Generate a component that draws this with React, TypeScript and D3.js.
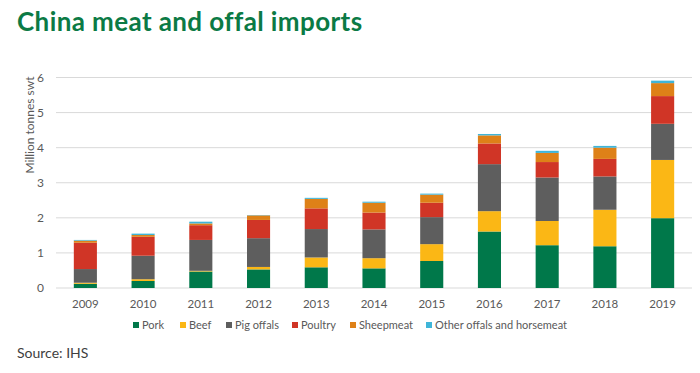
import React, { useEffect, useRef } from 'react'
import * as d3 from 'd3'

const years = ['2009', '2010', '2011', '2012', '2013', '2014', '2015', '2016', '2017', '2018', '2019']
const pork = [0.12, 0.2, 0.47, 0.53, 0.59, 0.56, 0.77, 1.61, 1.22, 1.19, 1.99]
const beef = [0.03, 0.05, 0.02, 0.07, 0.28, 0.29, 0.48, 0.58, 0.69, 1.04, 1.66]
const pigOffals = [0.39, 0.67, 0.88, 0.82, 0.81, 0.82, 0.77, 1.34, 1.24, 0.95, 1.03]
const poultry = [0.75, 0.54, 0.42, 0.52, 0.59, 0.48, 0.41, 0.59, 0.44, 0.5, 0.79]
const sheepmeat = [0.06, 0.05, 0.05, 0.13, 0.27, 0.28, 0.23, 0.23, 0.26, 0.32, 0.37]
const other = [0.02, 0.04, 0.05, 0.01, 0.03, 0.03, 0.03, 0.04, 0.06, 0.05, 0.07]
const seriesNames = ['Pork', 'Beef', 'Pig offals', 'Poultry', 'Sheepmeat', 'Other offals and horsemeat']
const seriesColors = ['#00784a', '#fbb715', '#5e5e5e', '#d03526', '#de8118', '#3fb5d8']
const yTicks = [0, 1, 2, 3, 4, 5, 6]

const font = 'Lato, "Open Sans", sans-serif'

const App = () => {
  const svgRef = useRef<SVGSVGElement>(null)

  useEffect(() => {
    const width = 700
    const height = 373
    const svg = d3.select(svgRef.current).attr('width', width).attr('height', height)
    svg.selectAll('*').remove()

    const all = [pork, beef, pigOffals, poultry, sheepmeat, other]
    const table = years.map((y, i) => {
      const row: any = { year: y }
      seriesNames.forEach((s, k) => (row[s] = all[k][i]))
      return row
    })

    const x = d3.scaleBand().domain(years).range([56.5, 691.5]).paddingInner(0.6).paddingOuter(0.3)
    const y = d3.scaleLinear().domain([0, 6]).range([288, 77.5])

    // title
    svg
      .append('text')
      .attr('x', 17)
      .attr('y', 31)
      .text('China meat and offal imports')
      .style('font-family', font)
      .style('font-weight', 'bold')
      .style('font-size', '26px')
      .style('letter-spacing', '0.4px')
      .style('fill', '#0b7a45')

    // grid
    svg
      .append('g')
      .selectAll('line')
      .data(yTicks)
      .enter()
      .append('line')
      .attr('x1', 56)
      .attr('x2', 692)
      .attr('y1', (d) => y(d))
      .attr('y2', (d) => y(d))
      .attr('stroke', '#d9d9d9')
      .attr('stroke-width', 1)

    svg
      .append('g')
      .selectAll('text')
      .data(yTicks)
      .enter()
      .append('text')
      .attr('x', 44)
      .attr('y', (d) => y(d))
      .attr('dy', '0.35em')
      .attr('text-anchor', 'end')
      .text((d) => d)
      .style('font-family', font)
      .style('font-size', '12px')
      .style('fill', '#595959')

    svg
      .append('text')
      .attr('transform', 'translate(34,125) rotate(-90)')
      .attr('text-anchor', 'middle')
      .text('Million tonnes swt')
      .style('font-family', font)
      .style('font-size', '12px')
      .style('fill', '#595959')

    // bars
    const stack = d3.stack<any>().keys(seriesNames)
    const layers = stack(table)
    svg
      .append('g')
      .selectAll('g')
      .data(layers)
      .enter()
      .append('g')
      .attr('fill', (d, i) => seriesColors[i])
      .selectAll('rect')
      .data((d) => d)
      .enter()
      .append('rect')
      .attr('x', (d: any) => x(d.data.year)!)
      .attr('width', x.bandwidth())
      .attr('y', (d) => y(d[1]))
      .attr('height', (d) => y(d[0]) - y(d[1]))

    // x labels
    svg
      .append('g')
      .selectAll('text')
      .data(years)
      .enter()
      .append('text')
      .attr('x', (d) => x(d)! + x.bandwidth() / 2)
      .attr('y', 304)
      .attr('dy', '0.35em')
      .attr('text-anchor', 'middle')
      .text((d) => d)
      .style('font-family', font)
      .style('font-size', '11.5px')
      .style('fill', '#595959')

    // legend
    const legendX = [133, 180, 226, 292, 350, 426]
    const legend = svg.append('g')
    seriesNames.forEach((s, i) => {
      const item = legend.append('g').attr('transform', `translate(${legendX[i]}, 325)`)
      item.append('rect').attr('x', 0).attr('y', -3).attr('width', 6).attr('height', 6).attr('fill', seriesColors[i])
      item
        .append('text')
        .attr('x', 9)
        .attr('y', 0)
        .attr('dy', '0.35em')
        .text(s)
        .style('font-family', font)
        .style('font-size', '11px')
        .style('fill', '#595959')
    })

    svg
      .append('text')
      .attr('x', 17)
      .attr('y', 358)
      .text('Source: IHS')
      .style('font-family', font)
      .style('font-size', '14px')
      .style('fill', '#404040')
  }, [])

  return (
    <div style={{ position: 'absolute', left: 0, top: 0 }}>
      <svg ref={svgRef}></svg>
    </div>
  )
}

export default App
